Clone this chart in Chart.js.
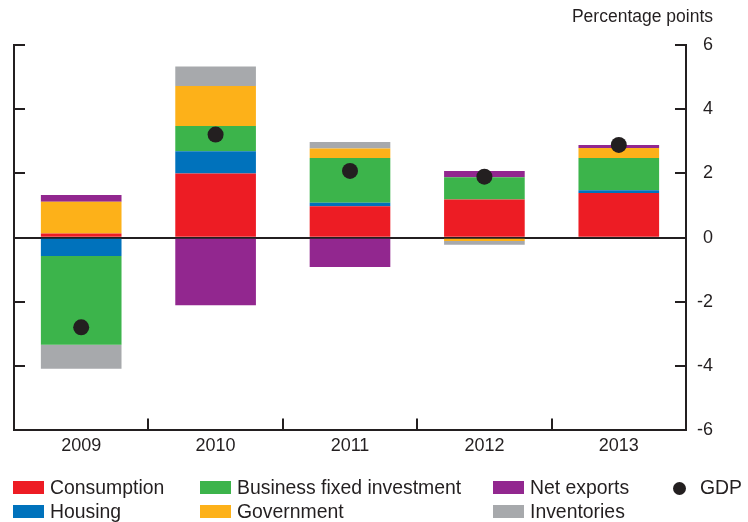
<!DOCTYPE html>
<html>
<head>
<meta charset="utf-8">
<script src="https://cdn.jsdelivr.net/npm/chart.js@4.4.1/dist/chart.umd.min.js"></script>
<style>
  html, body { margin: 0; padding: 0; background: #fff; }
  #wrap { position: relative; width: 748px; height: 522px; }
  #legend { position: absolute; left: 0; top: 0; width: 748px; height: 522px; pointer-events: none;
            font-family: "Liberation Sans", Arial, sans-serif; font-size: 19.4px; line-height: 1; color: #231f20; }
  #legend .sw { position: absolute; width: 31px; height: 13px; }
  #legend .dot { position: absolute; width: 13px; height: 13px; border-radius: 50%; background: #231f20; }
  #legend .tx { position: absolute; white-space: nowrap; }
</style>
</head>
<body>
<div id="wrap">
  <canvas id="chart" width="748" height="522"></canvas>
  <div id="legend"></div>
</div>
<script>
// Contributions to GDP growth, percentage points
const years = ['2009', '2010', '2011', '2012', '2013'];
const consumption        = [0.13, 2.00, 0.98, 1.19, 1.39];
const housing            = [-0.57, 0.69, 0.11, 0.00, 0.09];
const businessInvestment = [-2.76, 0.79, 1.39, 0.69, 1.00];
const government         = [0.99, 1.24, 0.30, -0.10, 0.31];
const netExports         = [0.21, -2.10, -0.91, 0.20, 0.10];
const inventories        = [-0.75, 0.61, 0.20, -0.12, 0.00];
const gdp                = [-2.79, 3.21, 2.08, 1.90, 2.89];

const ink = '#231f20';
const font = '"Liberation Sans", Arial, sans-serif';

const series = [
  { label: 'Consumption', data: consumption, color: '#ed1c24' },
  { label: 'Housing', data: housing, color: '#0072bc' },
  { label: 'Business fixed investment', data: businessInvestment, color: '#3cb44b' },
  { label: 'Government', data: government, color: '#fdb119' },
  { label: 'Net exports', data: netExports, color: '#92278f' },
  { label: 'Inventories', data: inventories, color: '#a7a9ac' }
];

// petits traits vers l'intérieur sur les axes
const inwardTicks = {
  id: 'inwardTicks',
  afterDraw(chart) {
    const { ctx, chartArea: a, scales: { x, y } } = chart;
    ctx.save();
    ctx.strokeStyle = ink;
    ctx.lineWidth = 2;
    ctx.beginPath();
    y.ticks.forEach(t => {
      const py = Math.round(y.getPixelForValue(t.value));
      ctx.moveTo(a.left, py); ctx.lineTo(a.left + 11, py);
      ctx.moveTo(a.right - 11, py); ctx.lineTo(a.right, py);
    });
    const half = (x.getPixelForValue(1) - x.getPixelForValue(0)) / 2;
    for (let i = 1; i < years.length; i++) {
      const px = Math.round(x.getPixelForValue(i) - half);
      ctx.moveTo(px, a.bottom); ctx.lineTo(px, a.bottom - 12);
    }
    ctx.stroke();
    ctx.restore();
  }
};

const datasets = series.map(s => ({
  type: 'bar',
  label: s.label,
  data: s.data,
  backgroundColor: s.color,
  borderWidth: 0,
  stack: 'parts',
  order: 1,
  categoryPercentage: 1.0,
  barPercentage: 0.6
}));
datasets.push({
  type: 'line',
  label: 'GDP',
  data: gdp,
  showLine: false,
  pointRadius: 8,
  pointBackgroundColor: ink,
  pointBorderWidth: 0,
  stack: 'gdp',
  order: 0
});

new Chart(document.getElementById('chart'), {
  type: 'bar',
  data: { labels: years, datasets },
  plugins: [inwardTicks],
  options: {
    responsive: false,
    animation: false,
    layout: { padding: { left: 14, right: 35, top: 0, bottom: 60 } },
    plugins: {
      legend: { display: false },
      tooltip: { enabled: false },
      title: {
        display: true,
        text: 'Percentage points',
        align: 'end',
        color: ink,
        font: { family: font, size: 17.5, weight: 'normal' },
        padding: { top: 7, bottom: 17 }
      }
    },
    scales: {
      x: {
        stacked: true,
        grid: { display: false, drawTicks: false },
        border: { display: true, color: ink, width: 2 },
        ticks: { color: ink, padding: 5, font: { family: font, size: 18 } }
      },
      y: {
        position: 'right',
        stacked: true,
        min: -6,
        max: 6,
        grid: {
          drawTicks: false,
          lineWidth: 2,
          color: c => c.tick && c.tick.value === 0 ? ink : 'rgba(0,0,0,0)'
        },
        border: { display: true, color: ink, width: 2 },
        ticks: { stepSize: 2, padding: 5.5, crossAlign: 'far', color: ink, font: { family: font, size: 18 } }
      },
      yLeft: {
        position: 'left',
        min: -6,
        max: 6,
        grid: { display: false, drawTicks: false },
        border: { display: true, color: ink, width: 2 },
        ticks: { display: false, stepSize: 2 }
      }
    }
  }
});

// légende en grille (3 colonnes + GDP)
const legend = document.getElementById('legend');
const colX = [13, 200, 493];
const rowBase = [494.5, 518.5];
series.forEach((s, i) => {
  const col = Math.floor(i / 2), row = i % 2;
  const sw = document.createElement('div');
  sw.className = 'sw';
  sw.style.left = colX[col] + 'px';
  sw.style.top = (rowBase[row] - 13.3) + 'px';
  sw.style.background = s.color;
  legend.appendChild(sw);
  const tx = document.createElement('div');
  tx.className = 'tx';
  tx.textContent = s.label;
  tx.style.left = (colX[col] + 37) + 'px';
  tx.style.top = (rowBase[row] - 16.4) + 'px';
  legend.appendChild(tx);
});
const dot = document.createElement('div');
dot.className = 'dot';
dot.style.left = '673px';
dot.style.top = (rowBase[0] - 12.5) + 'px';
legend.appendChild(dot);
const gdpTx = document.createElement('div');
gdpTx.className = 'tx';
gdpTx.textContent = 'GDP';
gdpTx.style.left = '700px';
gdpTx.style.top = (rowBase[0] - 16.4) + 'px';
legend.appendChild(gdpTx);
</script>
</body>
</html>
